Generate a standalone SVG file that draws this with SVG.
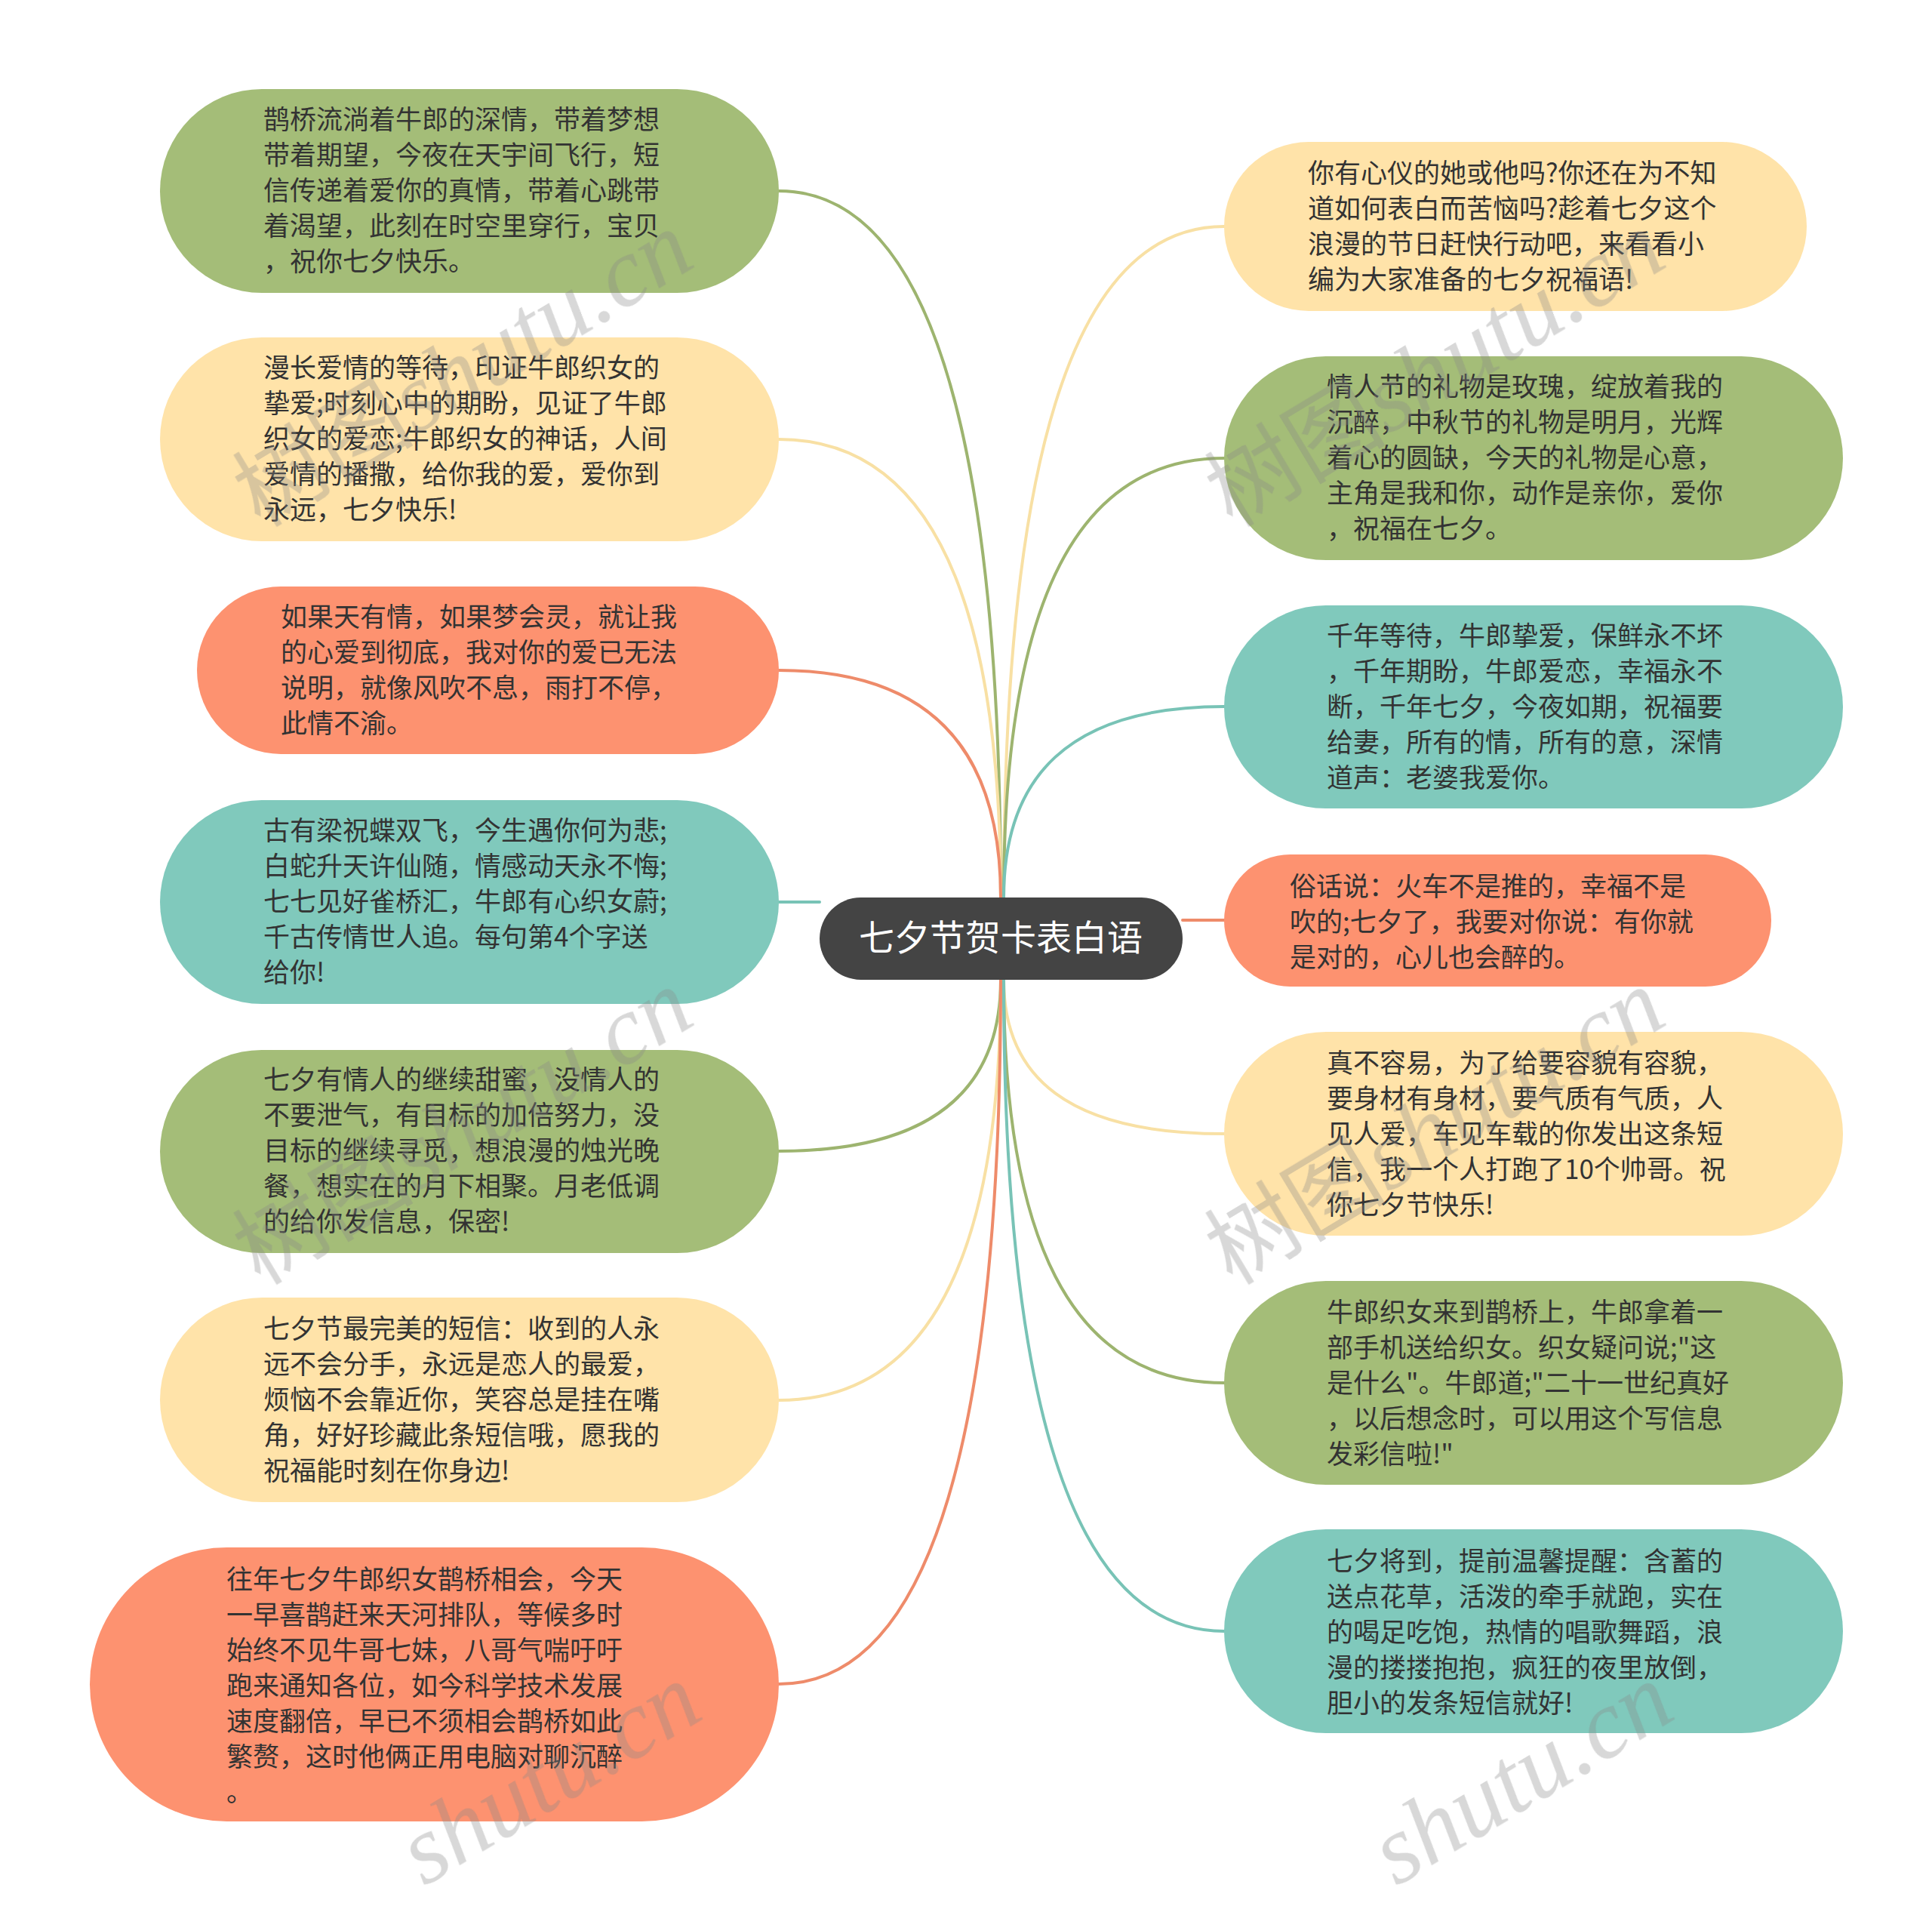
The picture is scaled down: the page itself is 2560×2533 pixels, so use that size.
<svg xmlns="http://www.w3.org/2000/svg" width="2560" height="2533" viewBox="0 0 2560 2533">
<style>
.t{font-family:"Noto Sans CJK SC","Noto Sans",sans-serif;font-size:35px;fill:#333333}
.c{fill:none;stroke-width:4;stroke-linecap:round}
.g{fill:#A4BD78}.y{fill:#FFE3A9}.o{fill:#FD9270}.b{fill:#80C9BC}
.cg{stroke:#9DB46F}.cy{stroke:#F8E0A4}.co{stroke:#EE8B6A}.cb{stroke:#78C3B6}
.wm{fill:#888888;opacity:0.33}
.wc{font-family:"Noto Sans CJK SC",sans-serif;font-size:120px}
.wl{font-family:"Liberation Serif",serif;font-style:italic;font-size:130px}
</style>
<rect width="2560" height="2533" fill="#FFFFFF"/>
<g id="connectors">
<path class="c cg" d="M1032,253 C1238,253 1326,599 1326,1189"/>
<path class="c cy" d="M1032,582 C1238,582 1326,807 1326,1189"/>
<path class="c co" d="M1032,888 C1238,888 1326,999 1326,1189"/>
<path class="c cb" d="M1032,1195 L1086,1195"/>
<path class="c cg" d="M1032,1525 C1238,1525 1326,1441 1326,1298"/>
<path class="c cy" d="M1032,1855 C1238,1855 1326,1649 1326,1298"/>
<path class="c co" d="M1032,2231 C1238,2231 1326,1886 1326,1298"/>
<path class="c cy" d="M1622,300 C1415,300 1330,629 1330,1189"/>
<path class="c cg" d="M1622,607 C1415,607 1330,822 1330,1189"/>
<path class="c cb" d="M1622,936 C1415,936 1330,1030 1330,1189"/>
<path class="c co" d="M1567,1219 L1622,1219"/>
<path class="c cy" d="M1622,1502 C1415,1502 1330,1427 1330,1298"/>
<path class="c cg" d="M1622,1832 C1415,1832 1330,1634 1330,1298"/>
<path class="c cb" d="M1622,2161 C1415,2161 1330,1842 1330,1298"/>
</g>
<g id="center">
<rect x="1086" y="1189" width="481" height="109" rx="54.5" fill="#444444"/>
<text x="1326" y="1259" text-anchor="middle" style="font-family:'Noto Sans CJK SC',sans-serif;font-size:47px;fill:#FFFFFF">七夕节贺卡表白语</text>
</g>
<g id="L1">
<rect class="g" x="212" y="118" width="820" height="270" rx="135"/>
<text class="t" x="349" y="171"><tspan x="349">鹊桥流淌着牛郎的深情，带着梦想</tspan><tspan x="349" dy="47">带着期望，今夜在天宇间飞行，短</tspan><tspan x="349" dy="47">信传递着爱你的真情，带着心跳带</tspan><tspan x="349" dy="47">着渴望，此刻在时空里穿行，宝贝</tspan><tspan x="349" dy="47">，祝你七夕快乐。</tspan></text>
</g>
<g id="L2">
<rect class="y" x="212" y="447" width="820" height="270" rx="135"/>
<text class="t" x="349" y="500"><tspan x="349">漫长爱情的等待，印证牛郎织女的</tspan><tspan x="349" dy="47">挚爱;时刻心中的期盼，见证了牛郎</tspan><tspan x="349" dy="47">织女的爱恋;牛郎织女的神话，人间</tspan><tspan x="349" dy="47">爱情的播撒，给你我的爱，爱你到</tspan><tspan x="349" dy="47">永远，七夕快乐!</tspan></text>
</g>
<g id="L3">
<rect class="o" x="261" y="777" width="771" height="222" rx="111"/>
<text class="t" x="372" y="830"><tspan x="372">如果天有情，如果梦会灵，就让我</tspan><tspan x="372" dy="47">的心爱到彻底，我对你的爱已无法</tspan><tspan x="372" dy="47">说明，就像风吹不息，雨打不停，</tspan><tspan x="372" dy="47">此情不渝。</tspan></text>
</g>
<g id="L4">
<rect class="b" x="212" y="1060" width="820" height="270" rx="135"/>
<text class="t" x="349" y="1113"><tspan x="349">古有梁祝蝶双飞，今生遇你何为悲;</tspan><tspan x="349" dy="47">白蛇升天许仙随，情感动天永不悔;</tspan><tspan x="349" dy="47">七七见好雀桥汇，牛郎有心织女蔚;</tspan><tspan x="349" dy="47">千古传情世人追。每句第4个字送</tspan><tspan x="349" dy="47">给你!</tspan></text>
</g>
<g id="L5">
<rect class="g" x="212" y="1391" width="820" height="269" rx="134.5"/>
<text class="t" x="349" y="1443"><tspan x="349">七夕有情人的继续甜蜜，没情人的</tspan><tspan x="349" dy="47">不要泄气，有目标的加倍努力，没</tspan><tspan x="349" dy="47">目标的继续寻觅，想浪漫的烛光晚</tspan><tspan x="349" dy="47">餐，想实在的月下相聚。月老低调</tspan><tspan x="349" dy="47">的给你发信息，保密!</tspan></text>
</g>
<g id="L6">
<rect class="y" x="212" y="1719" width="820" height="271" rx="135.5"/>
<text class="t" x="349" y="1773"><tspan x="349">七夕节最完美的短信：收到的人永</tspan><tspan x="349" dy="47">远不会分手，永远是恋人的最爱，</tspan><tspan x="349" dy="47">烦恼不会靠近你，笑容总是挂在嘴</tspan><tspan x="349" dy="47">角，好好珍藏此条短信哦，愿我的</tspan><tspan x="349" dy="47">祝福能时刻在你身边!</tspan></text>
</g>
<g id="L7">
<rect class="o" x="119" y="2050" width="913" height="363" rx="181.5"/>
<text class="t" x="300" y="2105"><tspan x="300">往年七夕牛郎织女鹊桥相会，今天</tspan><tspan x="300" dy="47">一早喜鹊赶来天河排队，等候多时</tspan><tspan x="300" dy="47">始终不见牛哥七妹，八哥气喘吁吁</tspan><tspan x="300" dy="47">跑来通知各位，如今科学技术发展</tspan><tspan x="300" dy="47">速度翻倍，早已不须相会鹊桥如此</tspan><tspan x="300" dy="47">繁赘，这时他俩正用电脑对聊沉醉</tspan><tspan x="300" dy="47">。</tspan></text>
</g>
<g id="R1">
<rect class="y" x="1622" y="188" width="772" height="224" rx="112"/>
<text class="t" x="1733" y="242"><tspan x="1733">你有心仪的她或他吗?你还在为不知</tspan><tspan x="1733" dy="47">道如何表白而苦恼吗?趁着七夕这个</tspan><tspan x="1733" dy="47">浪漫的节日赶快行动吧，来看看小</tspan><tspan x="1733" dy="47">编为大家准备的七夕祝福语!</tspan></text>
</g>
<g id="R2">
<rect class="g" x="1622" y="472" width="820" height="270" rx="135"/>
<text class="t" x="1758" y="525"><tspan x="1758">情人节的礼物是玫瑰，绽放着我的</tspan><tspan x="1758" dy="47">沉醉，中秋节的礼物是明月，光辉</tspan><tspan x="1758" dy="47">着心的圆缺，今天的礼物是心意，</tspan><tspan x="1758" dy="47">主角是我和你，动作是亲你，爱你</tspan><tspan x="1758" dy="47">，祝福在七夕。</tspan></text>
</g>
<g id="R3">
<rect class="b" x="1622" y="802" width="820" height="269" rx="134.5"/>
<text class="t" x="1758" y="855"><tspan x="1758">千年等待，牛郎挚爱，保鲜永不坏</tspan><tspan x="1758" dy="47">，千年期盼，牛郎爱恋，幸福永不</tspan><tspan x="1758" dy="47">断，千年七夕，今夜如期，祝福要</tspan><tspan x="1758" dy="47">给妻，所有的情，所有的意，深情</tspan><tspan x="1758" dy="47">道声：老婆我爱你。</tspan></text>
</g>
<g id="R4">
<rect class="o" x="1622" y="1132" width="725" height="175" rx="87.5"/>
<text class="t" x="1709" y="1187"><tspan x="1709">俗话说：火车不是推的，幸福不是</tspan><tspan x="1709" dy="47">吹的;七夕了，我要对你说：有你就</tspan><tspan x="1709" dy="47">是对的，心儿也会醉的。</tspan></text>
</g>
<g id="R5">
<rect class="y" x="1622" y="1367" width="820" height="270" rx="135"/>
<text class="t" x="1758" y="1421"><tspan x="1758">真不容易，为了给要容貌有容貌，</tspan><tspan x="1758" dy="47">要身材有身材，要气质有气质，人</tspan><tspan x="1758" dy="47">见人爱，车见车载的你发出这条短</tspan><tspan x="1758" dy="47">信，我一个人打跑了10个帅哥。祝</tspan><tspan x="1758" dy="47">你七夕节快乐!</tspan></text>
</g>
<g id="R6">
<rect class="g" x="1622" y="1697" width="820" height="270" rx="135"/>
<text class="t" x="1758" y="1751"><tspan x="1758">牛郎织女来到鹊桥上，牛郎拿着一</tspan><tspan x="1758" dy="47">部手机送给织女。织女疑问说;"这</tspan><tspan x="1758" dy="47">是什么"。牛郎道;"二十一世纪真好</tspan><tspan x="1758" dy="47">，以后想念时，可以用这个写信息</tspan><tspan x="1758" dy="47">发彩信啦!"</tspan></text>
</g>
<g id="R7">
<rect class="b" x="1622" y="2026" width="820" height="270" rx="135"/>
<text class="t" x="1758" y="2081"><tspan x="1758">七夕将到，提前温馨提醒：含蓄的</tspan><tspan x="1758" dy="47">送点花草，活泼的牵手就跑，实在</tspan><tspan x="1758" dy="47">的喝足吃饱，热情的唱歌舞蹈，浪</tspan><tspan x="1758" dy="47">漫的搂搂抱抱，疯狂的夜里放倒，</tspan><tspan x="1758" dy="47">胆小的发条短信就好!</tspan></text>
</g>
<g id="watermarks" class="wm">
<text transform="translate(345,700) rotate(-31)"><tspan class="wc">树图</tspan><tspan class="wl">shutu.cn</tspan></text>
<text transform="translate(1633,700) rotate(-31)"><tspan class="wc">树图</tspan><tspan class="wl">shutu.cn</tspan></text>
<text transform="translate(345,1704) rotate(-31)"><tspan class="wc">树图</tspan><tspan class="wl">shutu.cn</tspan></text>
<text transform="translate(1633,1704) rotate(-31)"><tspan class="wc">树图</tspan><tspan class="wl">shutu.cn</tspan></text>
<text class="wl" transform="translate(562,2500) rotate(-31)">shutu.cn</text>
<text class="wl" transform="translate(1850,2500) rotate(-31)">shutu.cn</text>
</g>
</svg>
